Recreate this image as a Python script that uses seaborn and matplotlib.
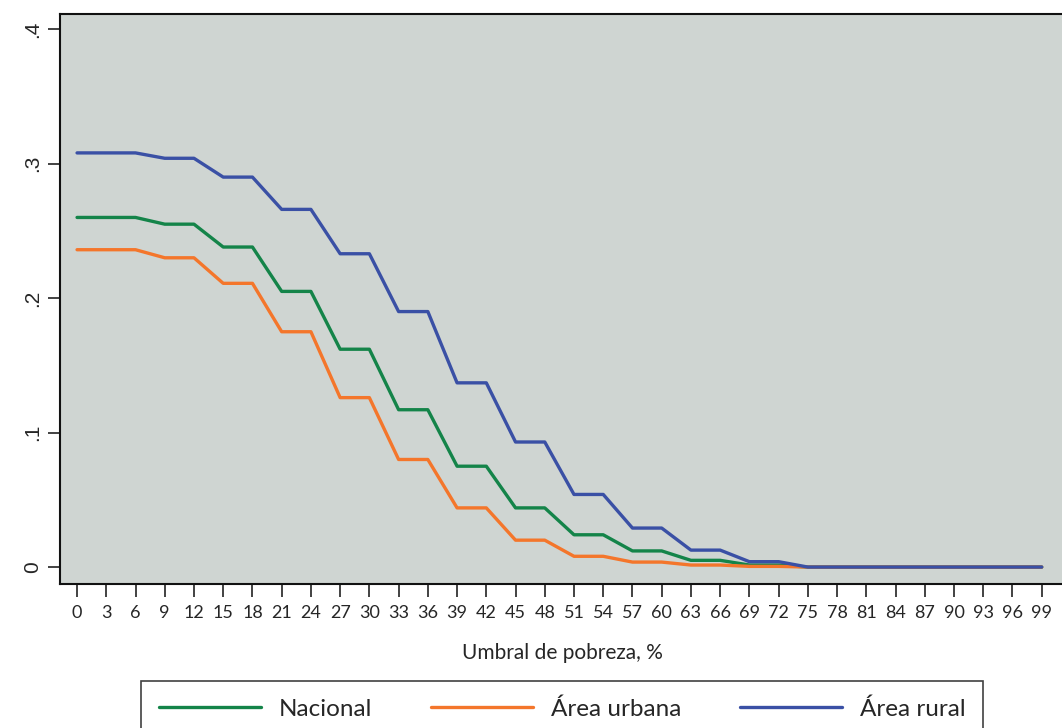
import numpy as np
import pandas as pd
import matplotlib
matplotlib.use("Agg")
import matplotlib.pyplot as plt
import seaborn as sns
from matplotlib.lines import Line2D

umbral = list(range(0, 100, 3))
nacional = [0.260, 0.260, 0.260, 0.255, 0.255, 0.238, 0.238, 0.205, 0.205,
            0.162, 0.162, 0.117, 0.117, 0.075, 0.075, 0.044, 0.044, 0.024, 0.024,
            0.012, 0.012, 0.005, 0.005, 0.0015, 0.0015] + [0.0] * 9
urbana = [0.236, 0.236, 0.236, 0.230, 0.230, 0.211, 0.211, 0.175, 0.175,
          0.126, 0.126, 0.080, 0.080, 0.044, 0.044, 0.020, 0.020, 0.008, 0.008,
          0.0037, 0.0037, 0.0015, 0.0015, 0.0005, 0.0005] + [0.0] * 9
rural = [0.308, 0.308, 0.308, 0.304, 0.304, 0.290, 0.290, 0.266, 0.266,
         0.233, 0.233, 0.190, 0.190, 0.137, 0.137, 0.093, 0.093, 0.054, 0.054,
         0.029, 0.029, 0.0126, 0.0126, 0.004, 0.004] + [0.0] * 9
series_names = ["Nacional", "Área urbana", "Área rural"]
colors = ["#148449", "#f4762b", "#3a50a5"]
ytick_vals = [0, 0.1, 0.2, 0.3, 0.4]
ytick_labels = ["0", ".1", ".2", ".3", ".4"]
xlabel = "Umbral de pobreza, %"

df = pd.DataFrame({
    "x": umbral * 3,
    "y": nacional + urbana + rural,
    "serie": [series_names[0]] * len(umbral) + [series_names[1]] * len(umbral) + [series_names[2]] * len(umbral),
})

sns.set_style("ticks")
plt.rcParams["font.family"] = ["Lato", "DejaVu Sans"]

fig = plt.figure(figsize=(10.62, 7.28), dpi=100)
ax = fig.add_axes([60 / 1062, 1 - 584 / 728, 1.0 - 60 / 1062 + 0.002, (584 - 14) / 728])
ax.set_facecolor("#cfd5d2")

sns.lineplot(data=df, x="x", y="y", hue="serie", palette=colors, hue_order=series_names,
             linewidth=2.4, ax=ax, legend=False)

ax.set_xlim(-1.75, 101.3)
ax.set_ylim(-0.0126, 0.4113)
ax.set_xticks(umbral)
ax.set_xticklabels([str(v) for v in umbral], fontsize=13)
ax.set_yticks(ytick_vals)
ax.set_yticklabels(ytick_labels, fontsize=15, rotation=90, va="center",
                   family=["Liberation Sans", "DejaVu Sans"])
ax.tick_params(axis="both", length=9, width=1.2, color="#222222", pad=4)
ax.tick_params(axis="x", pad=6)
ax.set_xlabel(xlabel, fontsize=15, labelpad=16)
ax.set_ylabel("")
for s in ax.spines.values():
    s.set_linewidth(1.5)
    s.set_color("#111111")

handles = [Line2D([0], [0], color=c, linewidth=2.4) for c in colors]
leg = fig.legend(handles, series_names, loc="upper center", bbox_to_anchor=(562 / 1062, 1 - 681 / 728),
                 ncol=3, frameon=True, fontsize=17.5, handlelength=4.2, columnspacing=2.4,
                 handletextpad=0.75, fancybox=False, borderpad=0.7, borderaxespad=0)
leg.get_frame().set_edgecolor("#111111")
leg.get_frame().set_linewidth(1.2)

fig.savefig("out.png", dpi=100)
